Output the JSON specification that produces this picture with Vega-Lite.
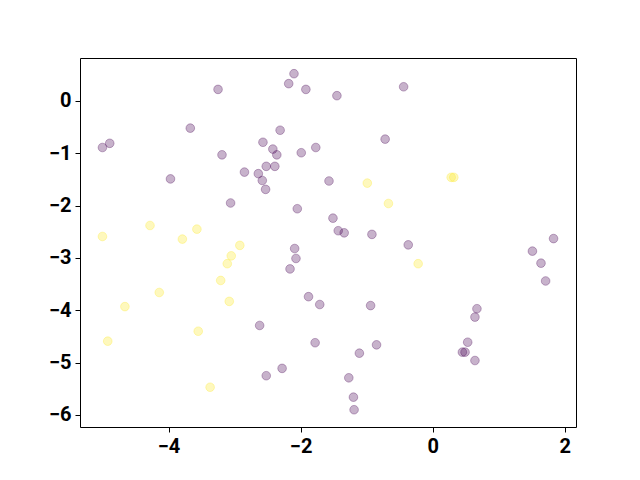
{
  "$schema": "https://vega.github.io/schema/vega-lite/v6.json",
  "width": 496,
  "height": 369,
  "autosize": "none",
  "padding": {"left": 80, "top": 58, "right": 64, "bottom": 53},
  "background": "white",
  "config": {
    "view": {"stroke": "black", "strokeWidth": 1},
    "axis": {
      "grid": false,
      "domain": false,
      "tickColor": "black",
      "tickSize": 5,
      "tickWidth": 1,
      "labelFont": "Roboto",
      "labelFontWeight": "bold",
      "labelFontSize": 20,
      "labelColor": "black",
      "labelPadding": 4,
      "title": null
    }
  },
  "data": {
    "values": [
      {"x": -3.25, "y": 0.22, "c": 0},
      {"x": -2.10, "y": 0.52, "c": 0},
      {"x": -2.18, "y": 0.33, "c": 0},
      {"x": -1.92, "y": 0.22, "c": 0},
      {"x": -3.67, "y": -0.52, "c": 0},
      {"x": -2.31, "y": -0.56, "c": 0},
      {"x": -5.00, "y": -0.89, "c": 0},
      {"x": -4.89, "y": -0.81, "c": 0},
      {"x": -2.57, "y": -0.79, "c": 0},
      {"x": -2.42, "y": -0.92, "c": 0},
      {"x": -2.36, "y": -1.03, "c": 0},
      {"x": -3.19, "y": -1.03, "c": 0},
      {"x": -1.99, "y": -0.99, "c": 0},
      {"x": -1.77, "y": -0.89, "c": 0},
      {"x": -2.52, "y": -1.25, "c": 0},
      {"x": -2.39, "y": -1.25, "c": 0},
      {"x": -2.85, "y": -1.36, "c": 0},
      {"x": -2.64, "y": -1.39, "c": 0},
      {"x": -2.58, "y": -1.52, "c": 0},
      {"x": -2.53, "y": -1.69, "c": 0},
      {"x": -3.97, "y": -1.49, "c": 0},
      {"x": -3.06, "y": -1.95, "c": 0},
      {"x": -2.05, "y": -2.06, "c": 0},
      {"x": -1.57, "y": -1.53, "c": 0},
      {"x": -1.45, "y": 0.10, "c": 0},
      {"x": -0.44, "y": 0.27, "c": 0},
      {"x": -0.72, "y": -0.73, "c": 0},
      {"x": -1.51, "y": -2.24, "c": 0},
      {"x": -1.43, "y": -2.48, "c": 0},
      {"x": -1.34, "y": -2.52, "c": 0},
      {"x": -0.92, "y": -2.55, "c": 0},
      {"x": -0.37, "y": -2.75, "c": 0},
      {"x": 1.83, "y": -2.63, "c": 0},
      {"x": 1.51, "y": -2.87, "c": 0},
      {"x": 1.64, "y": -3.10, "c": 0},
      {"x": 1.71, "y": -3.44, "c": 0},
      {"x": -1.71, "y": -3.89, "c": 0},
      {"x": -0.94, "y": -3.91, "c": 0},
      {"x": 0.67, "y": -3.97, "c": 0},
      {"x": 0.64, "y": -4.13, "c": 0},
      {"x": -0.85, "y": -4.66, "c": 0},
      {"x": -1.11, "y": -4.82, "c": 0},
      {"x": 0.53, "y": -4.61, "c": 0},
      {"x": 0.45, "y": -4.80, "c": 0},
      {"x": 0.49, "y": -4.80, "c": 0},
      {"x": 0.64, "y": -4.96, "c": 0},
      {"x": -1.27, "y": -5.29, "c": 0},
      {"x": -1.20, "y": -5.66, "c": 0},
      {"x": -1.19, "y": -5.90, "c": 0},
      {"x": -2.09, "y": -2.82, "c": 0},
      {"x": -2.07, "y": -3.01, "c": 0},
      {"x": -2.16, "y": -3.21, "c": 0},
      {"x": -1.88, "y": -3.74, "c": 0},
      {"x": -2.62, "y": -4.29, "c": 0},
      {"x": -1.78, "y": -4.62, "c": 0},
      {"x": -2.28, "y": -5.11, "c": 0},
      {"x": -2.52, "y": -5.25, "c": 0},
      {"x": -5.00, "y": -2.59, "c": 1},
      {"x": -4.28, "y": -2.38, "c": 1},
      {"x": -3.79, "y": -2.64, "c": 1},
      {"x": -3.57, "y": -2.45, "c": 1},
      {"x": -2.92, "y": -2.76, "c": 1},
      {"x": -0.99, "y": -1.57, "c": 1},
      {"x": -0.67, "y": -1.96, "c": 1},
      {"x": 0.28, "y": -1.46, "c": 1},
      {"x": 0.32, "y": -1.46, "c": 1},
      {"x": -0.22, "y": -3.11, "c": 1},
      {"x": -3.05, "y": -2.96, "c": 1},
      {"x": -3.11, "y": -3.11, "c": 1},
      {"x": -3.21, "y": -3.43, "c": 1},
      {"x": -4.14, "y": -3.66, "c": 1},
      {"x": -4.66, "y": -3.93, "c": 1},
      {"x": -3.08, "y": -3.83, "c": 1},
      {"x": -4.92, "y": -4.59, "c": 1},
      {"x": -3.55, "y": -4.40, "c": 1},
      {"x": -3.37, "y": -5.47, "c": 1}
    ]
  },
  "mark": {"type": "circle", "fillOpacity": 0.3, "strokeOpacity": 0.3, "strokeWidth": 1, "size": 75, "clip": true},
  "encoding": {
    "x": {
      "field": "x",
      "type": "quantitative",
      "scale": {"domain": [-5.34, 2.17], "nice": false, "zero": false},
      "axis": {"values": [-4, -2, 0, 2], "labelExpr": "replace(format(datum.value, 'd'), '-', '−')"}
    },
    "y": {
      "field": "y",
      "type": "quantitative",
      "scale": {"domain": [-6.23, 0.82], "nice": false, "zero": false},
      "axis": {"values": [0, -1, -2, -3, -4, -5, -6], "labelExpr": "replace(format(datum.value, 'd'), '-', '−')"}
    },
    "color": {
      "field": "c",
      "type": "nominal",
      "scale": {"domain": [0, 1], "range": ["#440154", "#fde725"]},
      "legend": null
    },
    "stroke": {
      "field": "c",
      "type": "nominal",
      "scale": {"domain": [0, 1], "range": ["#440154", "#fde725"]},
      "legend": null
    }
  }
}
